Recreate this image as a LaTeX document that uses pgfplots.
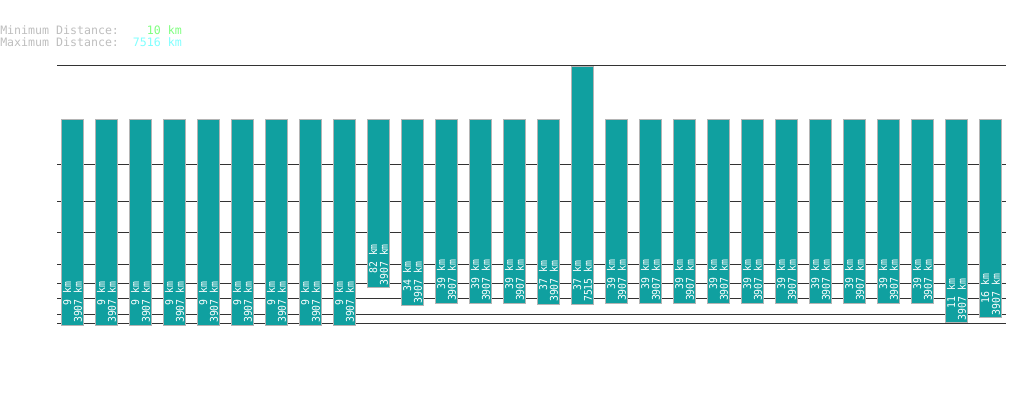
\documentclass[border=0pt]{standalone}
\usepackage{pgfplots}
\pgfplotsset{compat=1.18}
\usepackage{pgfplotstable}
\usepackage{fontspec}
\newfontfamily\hdrfont{DejaVu Sans Mono}
\newfontfamily\barfont[FakeStretch=0.92]{DejaVu Sans Mono}

\definecolor{barteal}{RGB}{16,160,160}
\definecolor{baredge}{RGB}{180,180,180}
\definecolor{gridgray}{RGB}{51,51,51}
\definecolor{hdrgray}{RGB}{190,190,190}
\definecolor{mingreen}{RGB}{128,255,128}
\definecolor{maxcyan}{RGB}{128,255,255}

% min / max distance per route (km)
\pgfplotstableread{
idx lo hi
0  9  3907
1  9  3907
2  9  3907
3  9  3907
4  9  3907
5  9  3907
6  9  3907
7  9  3907
8  9  3907
9  82 3907
10 34 3907
11 39 3907
12 39 3907
13 39 3907
14 37 3907
15 37 7515
16 39 3907
17 39 3907
18 39 3907
19 39 3907
20 39 3907
21 39 3907
22 39 3907
23 39 3907
24 39 3907
25 39 3907
26 11 3907
27 16 3907
}\distances

\tikzset{
  bar/.style={fill=barteal, draw=baredge, line width=0.75pt, line join=miter},
  lbl/.style={rotate=90, anchor=west, align=right, text=white,
    inner xsep=1.6pt, inner ysep=0pt,
    font=\barfont\fontsize{8pt}{7.95pt}\selectfont},
  hdr/.style={anchor=base west, inner sep=0pt, text=hdrgray,
    font=\hdrfont\fontsize{8.7pt}{10pt}\selectfont},
}

\begin{document}
\begin{tikzpicture}[x=0.75pt,y=0.75pt]
\begin{axis}[
    width=711.75pt, height=195.49pt,
    scale only axis,
    axis line style={draw=none},
    clip=false,
    enlargelimits=false,
    xmin=-0.456, xmax=27.456,
    ymin=8, ymax=7516,
    y coord trafo/.code={\pgfmathparse{(#1)^0.3}},
    y coord inv trafo/.code={\pgfmathparse{(#1)^(10/3)}},
    xtick=\empty,
    ytick={10,20,50,100,200,500,1000,2000,7516},
    yticklabel=\empty,
    major tick length=0pt,
    tick style={draw=none},
    ymajorgrids,
    major grid style={draw=gridgray, line width=0.75pt},
  ]
\pgfplotsinvokeforeach{0,...,27}{
  \pgfplotstablegetelem{#1}{lo}\of\distances \let\lo\pgfplotsretval
  \pgfplotstablegetelem{#1}{hi}\of\distances \let\hi\pgfplotsretval
  \pgfmathsetmacro\xa{#1-0.332}
  \pgfmathsetmacro\xb{#1+0.332}
  \edef\temp{%
    \noexpand\addplot[bar] coordinates {(\xa,\lo) (\xb,\lo) (\xb,\hi) (\xa,\hi)} -- cycle;
    \noexpand\node[lbl] at (axis cs:#1,\lo) {\lo\noexpand\ km\noexpand\\\hi\noexpand\ km};
  }
  \temp
}
\coordinate (corner) at (rel axis cs:0,0);
\end{axis}
\pgfresetboundingbox
\begin{scope}[shift={(corner)}]
\path[use as bounding box] (-57,-75.35) rectangle ++(1019,402);
\node[hdr] at (-57,291.65) {Minimum Distance:~~~~\textcolor{mingreen}{10 km}};
\node[hdr] at (-57,279.95) {Maximum Distance:~~\textcolor{maxcyan}{7516 km}};
\end{scope}
\end{tikzpicture}
\end{document}
